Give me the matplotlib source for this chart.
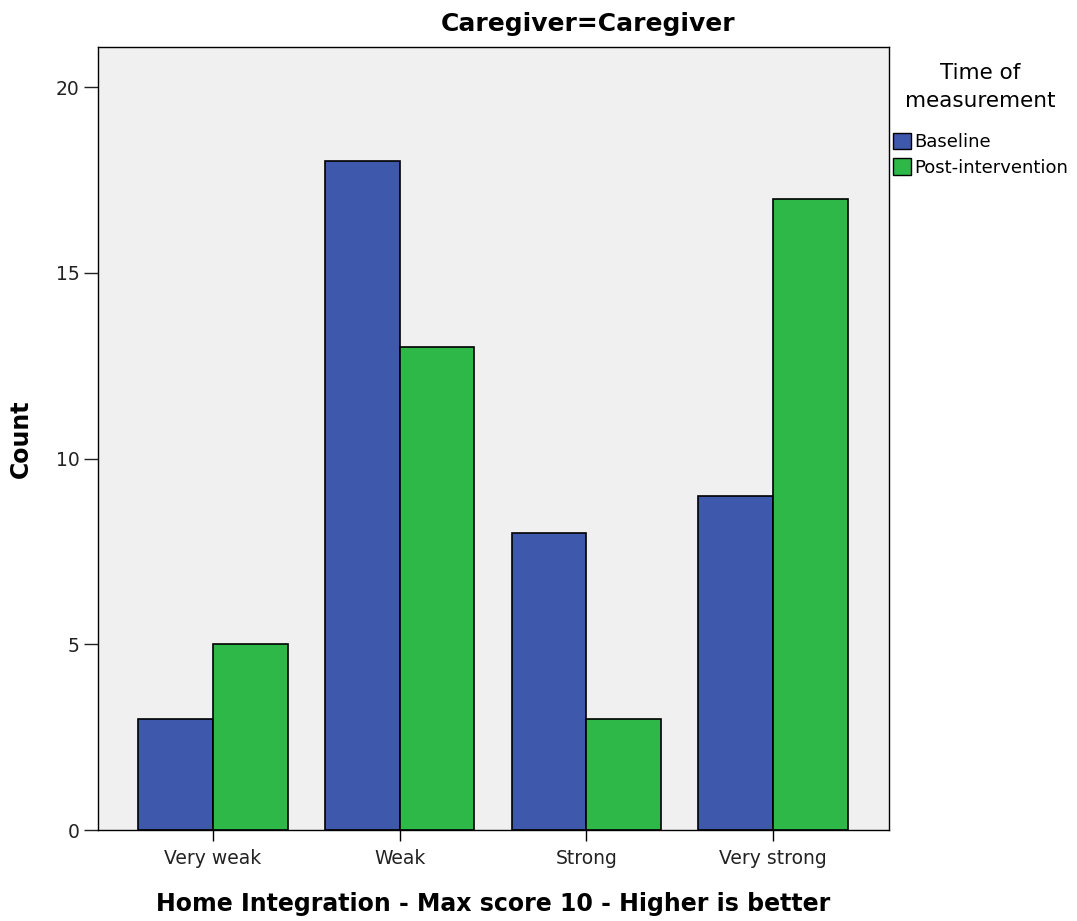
import numpy as np
import matplotlib
matplotlib.use('Agg')
import matplotlib.pyplot as plt
from matplotlib.patches import Patch

categories = ['Very weak', 'Weak', 'Strong', 'Very strong']
baseline = [3, 18, 8, 9]
post_intervention = [5, 13, 3, 17]
series_names = ['Baseline', 'Post-intervention']

blue = '#3e58ac'
green = '#2eb848'

fig = plt.figure(figsize=(10.77, 9.21), dpi=100)
ax = fig.add_axes([0.091, 0.0988, 0.7344, 0.8502])
ax.set_facecolor('#f0f0f0')

x = np.arange(len(categories))
w = 0.40
ax.bar(x - w/2, baseline, w, color=blue, edgecolor='black', linewidth=1.2)
ax.bar(x + w/2, post_intervention, w, color=green, edgecolor='black', linewidth=1.2)

ax.set_xlim(-0.616, 3.621)
ax.set_ylim(0, 21.08)
ax.set_yticks([0, 5, 10, 15, 20])
ax.set_xticks(x)
ax.set_xticklabels(categories, fontsize=13.5, color='#222222')
ax.tick_params(axis='y', labelsize=13.5, length=10, width=1, colors='#222222')
ax.tick_params(axis='x', length=8, width=1, pad=6)
for s in ax.spines.values():
    s.set_linewidth(1)

ax.set_ylabel('Count', fontsize=17, fontweight='bold', labelpad=16)
ax.set_xlabel('Home Integration - Max score 10 - Higher is better', fontsize=17,
              fontweight='bold', labelpad=17)

fig.text(588 / 1077, 1 - 24 / 921, 'Caregiver=Caregiver', fontsize=18,
         fontweight='bold', ha='center', va='center')

handles = [Patch(facecolor=blue, edgecolor='black'),
           Patch(facecolor=green, edgecolor='black')]
leg = fig.legend(handles, series_names, title='Time of\nmeasurement',
                 loc='upper left', bbox_to_anchor=(0.826, 0.935), frameon=False,
                 fontsize=13, title_fontsize=15.5, handlelength=1.0,
                 handleheight=1.0, handletextpad=0.15, labelspacing=0.4,
                 borderaxespad=0, borderpad=0.2)
leg.get_title().set_multialignment('center')
leg.get_title().set_linespacing(1.45)
leg._legend_box.sep = 16

fig.savefig('out.png', dpi=100)
